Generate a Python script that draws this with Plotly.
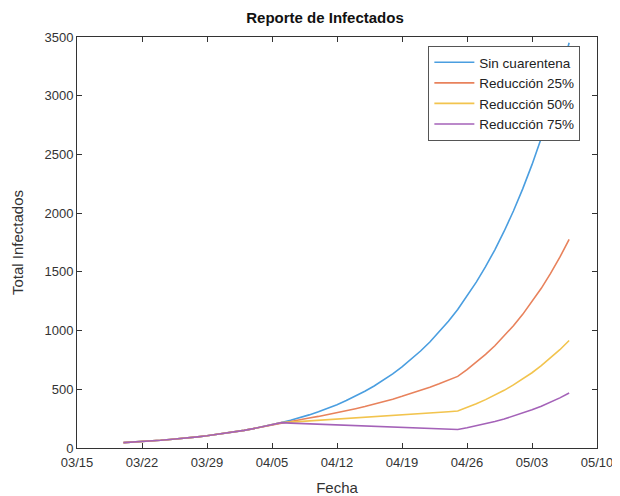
import pandas as pd
import plotly.graph_objects as go

dates = pd.date_range("2020-03-20", "2020-05-07", freq="D")

common = [46, 50, 55, 60, 66, 73, 79, 87, 95, 104, 114, 125, 137, 150, 165, 180, 197]

sin_cuarentena = common + [216, 236, 258, 282, 309, 338, 369, 404, 442, 483, 528, 577, 631, 690, 755,
                           826, 903, 987, 1080, 1180, 1291, 1412, 1544, 1688, 1846, 2018, 2207, 2413,
                           2639, 2886, 3156, 3451]
reduccion_25 = common + [216, 228, 241, 255, 269, 284, 300, 317, 335, 353, 373, 394, 416, 440, 464,
                         491, 518, 547, 578, 610, 667, 729, 797, 871, 953, 1041, 1138, 1244, 1360,
                         1487, 1625, 1776]
reduccion_50 = common + [216, 220, 225, 229, 234, 239, 243, 248, 253, 258, 264, 269, 274, 280, 285,
                         291, 297, 303, 309, 315, 345, 377, 412, 450, 491, 537, 587, 641, 701, 766,
                         837, 915]
reduccion_75 = common + [216, 212, 209, 205, 202, 199, 195, 192, 189, 186, 183, 180, 177, 174, 171,
                         168, 165, 162, 160, 157, 172, 188, 206, 226, 247, 271, 297, 325, 356, 390,
                         427, 468]

names = ["Sin cuarentena", "Reducción 25%", "Reducción 50%", "Reducción 75%"]
colors = ["#4a9ee0", "#e8825c", "#f2c44e", "#a462b8"]
series = [sin_cuarentena, reduccion_25, reduccion_50, reduccion_75]

x_ticks = ["2020-03-15", "2020-03-22", "2020-03-29", "2020-04-05", "2020-04-12",
           "2020-04-19", "2020-04-26", "2020-05-03", "2020-05-10"]
x_ticklabels = ["03/15", "03/22", "03/29", "04/05", "04/12", "04/19", "04/26", "05/03", "05/10"]
y_ticks = [0, 500, 1000, 1500, 2000, 2500, 3000, 3500]

fig = go.Figure()
for name, col, vals in zip(names, colors, series):
    fig.add_trace(go.Scatter(x=dates, y=vals, mode="lines", name=name,
                             line=dict(color=col, width=1.6)))

axis_color = "#333333"
font = dict(family="Liberation Sans, Arial, sans-serif", size=13, color="#333333")

# page body has an 8px margin, so the figure is sized to fit the 620x496 window
fig.update_layout(
    width=612, height=488,
    margin=dict(l=69, r=23, t=29, b=48, autoexpand=False),
    paper_bgcolor="white", plot_bgcolor="white",
    font=font,
    title=dict(text="<b>Reporte de Infectados</b>", x=0.518, xanchor="center",
               y=0.979, yanchor="middle", font=dict(size=15, color="#111111")),
    showlegend=True,
    legend=dict(x=0.968, y=0.978, xanchor="right", yanchor="top",
                bgcolor="white", bordercolor="#555555", borderwidth=1,
                font=dict(size=13.5, color="#222222"), tracegroupgap=0,
                itemwidth=40),
    xaxis=dict(
        range=["2020-03-15", "2020-05-10"], tickmode="array",
        tickvals=x_ticks, ticktext=x_ticklabels, automargin=False,
        showgrid=False, zeroline=False,
        showline=True, linecolor=axis_color, linewidth=1, mirror="ticks",
        ticks="inside", ticklen=5, tickcolor=axis_color, ticklabelstandoff=2,
        title=dict(text="Fecha", standoff=14, font=dict(size=15)),
    ),
    yaxis=dict(
        range=[0, 3500], tickmode="array", tickvals=y_ticks, automargin=False,
        showgrid=False, zeroline=False,
        showline=True, linecolor=axis_color, linewidth=1, mirror="ticks",
        ticks="inside", ticklen=5, tickcolor=axis_color,
        title=dict(text="Total Infectados", standoff=17, font=dict(size=15)),
    ),
)

fig.write_html("out.html")
